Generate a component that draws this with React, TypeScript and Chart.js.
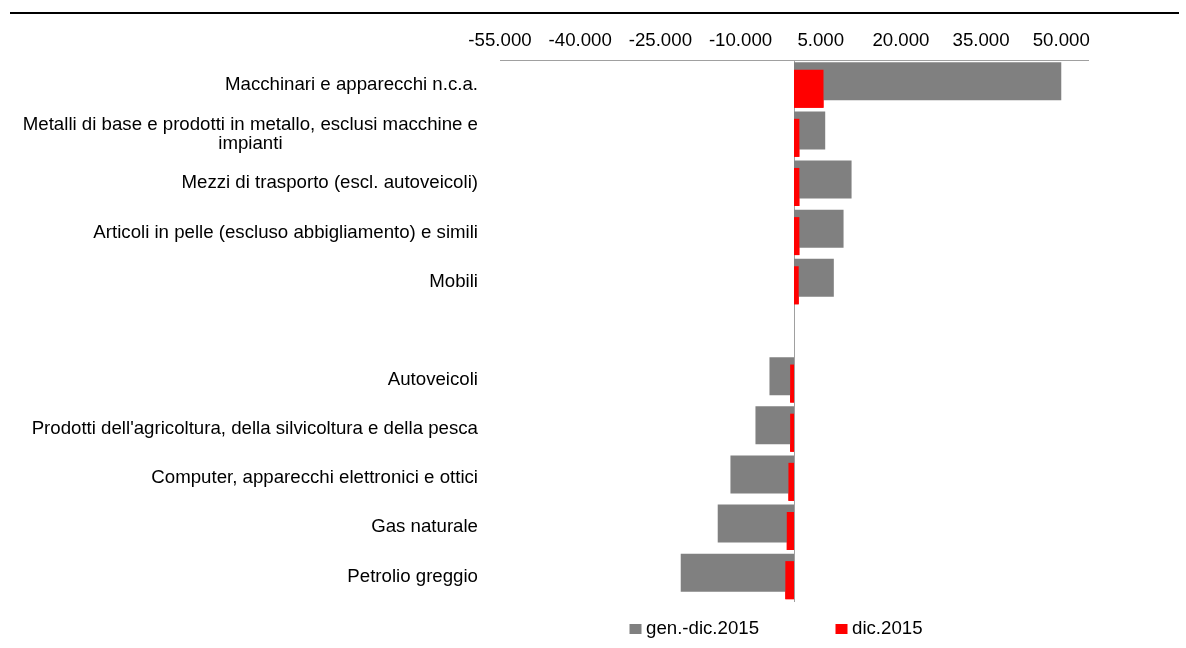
import { useEffect, useRef } from 'react';
import { Chart, registerables } from 'chart.js';

Chart.register(...registerables);

const CATEGORIES: (string | string[])[] = [
  'Macchinari e apparecchi n.c.a.',
  ['Metalli di base e prodotti in metallo, esclusi macchine e', 'impianti'],
  'Mezzi di trasporto (escl. autoveicoli)',
  'Articoli in pelle (escluso abbigliamento) e simili',
  'Mobili',
  '',
  'Autoveicoli',
  "Prodotti dell'agricoltura, della silvicoltura e della pesca",
  'Computer, apparecchi elettronici e ottici',
  'Gas naturale',
  'Petrolio greggio',
];

const SERIES_LABELS = ['gen.-dic.2015', 'dic.2015'];
const SERIES_COLORS = ['#808080', '#ff0000'];

const GEN_DIC_2015 = [50000, 5840, 10770, 9270, 7450, null, -4590, -7210, -11890, -14270, -21190];
const DIC_2015 = [5520, 1000, 1000, 1000, 880, null, -720, -720, -1040, -1350, -1620];

const X_MIN = -55000;
const X_MAX = 55000;
const X_TICKS = [-55000, -40000, -25000, -10000, 5000, 20000, 35000, 50000];

const FONT = '"Liberation Sans", Arial, Helvetica, sans-serif';
const FONT_SIZE = 18.67;

function fmt(v: number): string {
  const s = Math.round(Math.abs(v)).toString().replace(/\B(?=(\d{3})+(?!\d))/g, '.');
  return (v < 0 ? '-' : '') + s;
}

const redOnTop = {
  id: 'redOnTop',
  afterDatasetsDraw(chart: any) {
    const meta = chart.getDatasetMeta(1);
    if (meta && meta.controller) meta.controller.draw();
  },
};

const categoryLabels = {
  id: 'categoryLabels',
  afterDraw(chart: any) {
    const { ctx, chartArea, scales } = chart;
    const yScale = scales.y;
    ctx.save();
    ctx.font = `${FONT_SIZE}px ${FONT}`;
    ctx.fillStyle = '#000';
    ctx.textBaseline = 'middle';
    ctx.textAlign = 'center';
    const right = chartArea.left - 22;
    const lh = 19.5;
    CATEGORIES.forEach((c, i) => {
      const lines = Array.isArray(c) ? c : [c];
      if (!lines.join('')) return;
      const w = Math.max(...lines.map((l) => ctx.measureText(l).width));
      const cx = right - w / 2;
      const cy = yScale.getPixelForValue(i);
      lines.forEach((l, k) => {
        ctx.fillText(l, cx, cy + (k - (lines.length - 1) / 2) * lh);
      });
    });
    ctx.restore();
  },
};

const customLegend = {
  id: 'customLegend',
  afterDraw(chart: any) {
    const { ctx, chartArea } = chart;
    ctx.save();
    ctx.font = `${FONT_SIZE}px ${FONT}`;
    ctx.fillStyle = '#000';
    ctx.textBaseline = 'middle';
    ctx.textAlign = 'left';
    const offsets = [129.5, 335.5];
    const top = chartArea.bottom + 23;
    chart.data.datasets.forEach((ds: any, i: number) => {
      const x = chartArea.left + offsets[i];
      ctx.fillStyle = ds.backgroundColor;
      ctx.fillRect(x, top, 12, 10);
      ctx.fillStyle = '#000';
      ctx.fillText(ds.label, x + 16.5, top + 5);
    });
    ctx.restore();
  },
};

export default function App() {
  const canvasRef = useRef<HTMLCanvasElement | null>(null);

  useEffect(() => {
    if (!canvasRef.current) return;
    const chart = new Chart(canvasRef.current, {
      type: 'bar',
      data: {
        labels: CATEGORIES as any,
        datasets: [
          {
            label: SERIES_LABELS[0],
            data: GEN_DIC_2015 as any,
            backgroundColor: SERIES_COLORS[0],
            borderWidth: 0,
            categoryPercentage: 0.301,
            barPercentage: 5.14,
          },
          {
            label: SERIES_LABELS[1],
            data: DIC_2015 as any,
            backgroundColor: SERIES_COLORS[1],
            borderWidth: 0,
            categoryPercentage: 0.301,
            barPercentage: 5.14,
          },
        ],
      },
      options: {
        indexAxis: 'y',
        responsive: false,
        animation: false,
        devicePixelRatio: 1,
        layout: { padding: { left: 500, right: 98, top: 22, bottom: 47 } },
        plugins: {
          legend: { display: false },
          tooltip: { enabled: false },
        },
        scales: {
          x: {
            type: 'linear',
            position: 'top',
            min: X_MIN,
            max: X_MAX,
            afterBuildTicks: (scale: any) => {
              scale.ticks = X_TICKS.map((v) => ({ value: v }));
            },
            ticks: {
              autoSkip: false,
              maxRotation: 0,
              padding: 8,
              color: '#000',
              font: { family: FONT, size: FONT_SIZE },
              callback: (v: any) => fmt(Number(v)),
            },
            grid: { display: false, drawTicks: false },
            border: { display: true, color: '#a0a0a0', width: 1 },
          },
          y: {
            type: 'category',
            position: { x: 0 } as any,
            offset: true,
            ticks: { display: false },
            grid: { display: false, drawTicks: false },
            border: { display: true, color: '#a0a0a0', width: 1 },
          },
        },
      } as any,
      plugins: [redOnTop, categoryLabels, customLegend],
    });
    return () => chart.destroy();
  }, []);

  return (
    <div
      style={{
        position: 'fixed',
        left: 0,
        top: 0,
        width: 1186,
        height: 648,
        background: '#fff',
      }}
    >
      <div
        style={{
          position: 'absolute',
          left: 10,
          top: 12,
          width: 1169,
          height: 2,
          background: '#000',
        }}
      />
      <canvas
        ref={canvasRef}
        width={1186}
        height={648}
        style={{ position: 'absolute', left: 0, top: 0, display: 'block' }}
      />
    </div>
  );
}
